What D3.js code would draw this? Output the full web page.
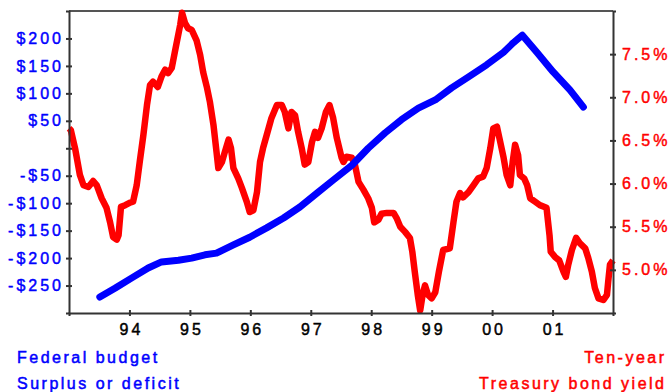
<!DOCTYPE html>
<html>
<head>
<meta charset="utf-8">
<script src="https://cdn.jsdelivr.net/npm/d3@7"></script>
<style>
  html, body { margin: 0; padding: 0; background: #fff; }
  svg { display: block; }
  text { font-family: "Liberation Sans", Arial, sans-serif; }
</style>
</head>
<body>
<div id="chart"></div>
<script>
// Ten-year Treasury yield (%) by decimal year
const yieldDates = [
  1993.00, 1993.03, 1993.10, 1993.18, 1993.24, 1993.32, 1993.40, 1993.46, 1993.54, 1993.62,
  1993.68, 1993.73, 1993.79, 1993.82, 1993.86, 1993.93, 1994.01, 1994.06, 1994.12, 1994.17,
  1994.23, 1994.29, 1994.34, 1994.39, 1994.47, 1994.53, 1994.59, 1994.64, 1994.70, 1994.75,
  1994.84, 1994.87, 1994.92, 1994.97, 1995.03, 1995.11, 1995.17, 1995.22, 1995.28, 1995.33,
  1995.39, 1995.44, 1995.47, 1995.53, 1995.58, 1995.64, 1995.68, 1995.72, 1995.80, 1995.86,
  1995.94, 1995.99, 1996.05, 1996.11, 1996.16, 1996.21, 1996.27, 1996.35, 1996.44, 1996.52,
  1996.57, 1996.63, 1996.68, 1996.74, 1996.79, 1996.85, 1996.90, 1996.96, 1997.02, 1997.07,
  1997.12, 1997.18, 1997.25, 1997.31, 1997.37, 1997.43, 1997.51, 1997.54, 1997.59, 1997.68,
  1997.73, 1997.79, 1997.87, 1997.95, 1998.01, 1998.05, 1998.12, 1998.17, 1998.26, 1998.37,
  1998.42, 1998.48, 1998.56, 1998.64, 1998.68, 1998.72, 1998.77, 1998.81, 1998.85, 1998.89,
  1998.94, 1999.00, 1999.06, 1999.12, 1999.19, 1999.30, 1999.36, 1999.41, 1999.47, 1999.52,
  1999.61, 1999.69, 1999.77, 1999.85, 1999.91, 1999.97, 2000.02, 2000.08, 2000.12, 2000.19,
  2000.24, 2000.30, 2000.34, 2000.38, 2000.43, 2000.46, 2000.53, 2000.58, 2000.63, 2000.71,
  2000.79, 2000.90, 2000.95, 2000.97, 2001.04, 2001.11, 2001.18, 2001.22, 2001.26, 2001.32,
  2001.39, 2001.45, 2001.54, 2001.59, 2001.65, 2001.70, 2001.76, 2001.84, 2001.90, 2001.92,
  2001.95, 2002.00
];
const yieldValues = [
  6.64, 6.62, 6.41, 6.10, 5.98, 5.96, 6.03, 5.98, 5.83, 5.72,
  5.55, 5.38, 5.35, 5.40, 5.73, 5.75, 5.78, 5.79, 5.98, 6.25,
  6.56, 6.91, 7.14, 7.18, 7.12, 7.24, 7.32, 7.28, 7.34, 7.52,
  7.84, 7.98, 7.86, 7.80, 7.78, 7.66, 7.49, 7.29, 7.12, 6.95,
  6.68, 6.37, 6.18, 6.25, 6.37, 6.51, 6.41, 6.18, 6.06, 5.95,
  5.79, 5.67, 5.69, 5.90, 6.25, 6.41, 6.56, 6.76, 6.91, 6.91,
  6.83, 6.64, 6.83, 6.79, 6.60, 6.41, 6.22, 6.25, 6.48, 6.60,
  6.53, 6.64, 6.83, 6.91, 6.76, 6.53, 6.30, 6.25, 6.31, 6.30,
  6.22, 6.02, 5.93, 5.83, 5.72, 5.55, 5.58, 5.65, 5.66, 5.66,
  5.60, 5.50, 5.44, 5.37, 5.21, 4.98, 4.71, 4.53, 4.71, 4.82,
  4.71, 4.67, 4.74, 4.98, 5.23, 5.25, 5.55, 5.79, 5.89, 5.84,
  5.90, 5.98, 6.06, 6.08, 6.18, 6.41, 6.64, 6.66, 6.53, 6.30,
  6.10, 5.98, 6.25, 6.45, 6.33, 6.10, 6.06, 5.98, 5.83, 5.79,
  5.75, 5.72, 5.40, 5.21, 5.15, 5.11, 4.98, 4.92, 5.06, 5.23,
  5.37, 5.31, 5.25, 5.14, 4.98, 4.79, 4.67, 4.65, 4.71, 4.86,
  5.06, 5.11
];

// Federal budget surplus or deficit ($ billions, rolling) by decimal year
const budgetDates = [
  1993.51, 1993.76, 1994.04, 1994.31, 1994.53, 1994.81, 1995.03, 1995.25, 1995.44, 1995.72,
  1995.99, 1996.27, 1996.55, 1996.82, 1997.10, 1997.37, 1997.68, 1997.95, 1998.23, 1998.50,
  1998.78, 1999.06, 1999.33, 1999.61, 1999.91, 2000.19, 2000.35, 2000.50, 2000.74, 2001.01,
  2001.29, 2001.51
];
const budgetValues = [
  -271, -255, -236, -218, -207, -204, -200, -194, -191, -176,
  -162, -145, -127, -107, -82, -58, -31, 0, 28, 52,
  73, 88, 110, 130, 152, 175, 192, 206, 175, 139,
  106, 75
];

// Axis ticks and labels
const yearTicks = [1994, 1995, 1996, 1997, 1998, 1999, 2000, 2001];
const yearLabels = ["94", "95", "96", "97", "98", "99", "00", "01"];
const budgetTicks = [200, 150, 100, 50, 0, -50, -100, -150, -200, -250];
const budgetTickLabels = ["$200", "$150", "$100", "$50", "", "-$50", "-$100", "-$150", "-$200", "-$250"];
const yieldTicks = [7.5, 7.0, 6.5, 6.0, 5.5, 5.0];
const yieldTickLabels = ["7.5%", "7.0%", "6.5%", "6.0%", "5.5%", "5.0%"];

const budgetTitle = ["Federal budget", "Surplus or deficit"];
const yieldTitle = ["Ten-year", "Treasury bond yield"];

const W = 671, H = 392;
const plot = { left: 69, right: 613, top: 11, bottom: 313 };
const BLUE = "#0000ff", RED = "#ff0000", AXIS = "#333";
const LS = 3; // letter spacing of all labels

const svg = d3.select("#chart").append("svg")
  .attr("width", W).attr("height", H);

const x = d3.scaleLinear().domain([1993, 2002]).range([plot.left, plot.right]);
const yBudget = d3.scaleLinear().domain([-300, 250]).range([plot.bottom, plot.top]);
const yYield = d3.scaleLinear().domain([4.5, 8.0]).range([plot.bottom, plot.top]);

// top frame line
svg.append("line")
  .attr("x1", plot.left).attr("x2", plot.right)
  .attr("y1", plot.top).attr("y2", plot.top)
  .attr("stroke", "#555").attr("stroke-width", 2);

// series
const yieldLine = d3.line()
  .x((d, i) => x(yieldDates[i]))
  .y(d => yYield(d));
svg.append("path")
  .datum(yieldValues)
  .attr("d", yieldLine)
  .attr("fill", "none")
  .attr("stroke", RED)
  .attr("stroke-width", 6.5)
  .attr("stroke-linejoin", "round");

const budgetLine = d3.line()
  .x((d, i) => x(budgetDates[i]))
  .y(d => yBudget(d));
svg.append("path")
  .datum(budgetValues)
  .attr("d", budgetLine)
  .attr("fill", "none")
  .attr("stroke", BLUE)
  .attr("stroke-width", 7)
  .attr("stroke-linejoin", "round")
  .attr("stroke-linecap", "round");

function styleAxis(g, color) {
  g.select(".domain").attr("stroke", AXIS).attr("stroke-width", 2);
  g.selectAll(".tick line").attr("stroke", AXIS).attr("stroke-width", 2);
  g.selectAll(".tick text")
    .attr("font-size", 16)
    .attr("letter-spacing", LS)
    .attr("fill", color)
    .attr("stroke", color)
    .attr("stroke-width", 0.45);
}

// bottom axis
const gx = svg.append("g")
  .attr("transform", `translate(0,${plot.bottom})`)
  .call(d3.axisBottom(x)
    .tickValues(yearTicks)
    .tickFormat((d, i) => yearLabels[i])
    .tickSize(3)
    .tickSizeOuter(3)
    .tickPadding(8));
styleAxis(gx, "#000");
gx.selectAll(".tick line").attr("y1", -3).attr("y2", 3);
gx.selectAll(".tick text").attr("dx", LS / 2);

// left axis
const gl = svg.append("g")
  .attr("transform", `translate(${plot.left},0)`)
  .call(d3.axisLeft(yBudget)
    .tickValues(budgetTicks)
    .tickFormat((d, i) => budgetTickLabels[i])
    .tickSize(3)
    .tickSizeOuter(3)
    .tickPadding(5));
styleAxis(gl, BLUE);
gl.selectAll(".tick line").attr("x1", -3).attr("x2", 3);
gl.selectAll(".tick text").attr("dx", LS);

// right axis
const gr = svg.append("g")
  .attr("transform", `translate(${plot.right},0)`)
  .call(d3.axisRight(yYield)
    .tickValues(yieldTicks)
    .tickFormat((d, i) => yieldTickLabels[i])
    .tickSize(3)
    .tickSizeOuter(3)
    .tickPadding(6));
styleAxis(gr, RED);
gr.selectAll(".tick line").attr("x1", -3).attr("x2", 3);

// series titles
function titleBlock(lines, xPos, anchor, color) {
  svg.append("g").selectAll("text")
    .data(lines)
    .join("text")
    .attr("x", xPos)
    .attr("y", (d, i) => 363 + i * 26)
    .attr("text-anchor", anchor)
    .attr("fill", color)
    .attr("stroke", color)
    .attr("stroke-width", 0.5)
    .attr("font-size", 16)
    .attr("letter-spacing", 2.5)
    .text(d => d);
}
titleBlock(budgetTitle, 17, "start", BLUE);
titleBlock(yieldTitle, 664 + 2.5, "end", RED);
</script>
</body>
</html>
